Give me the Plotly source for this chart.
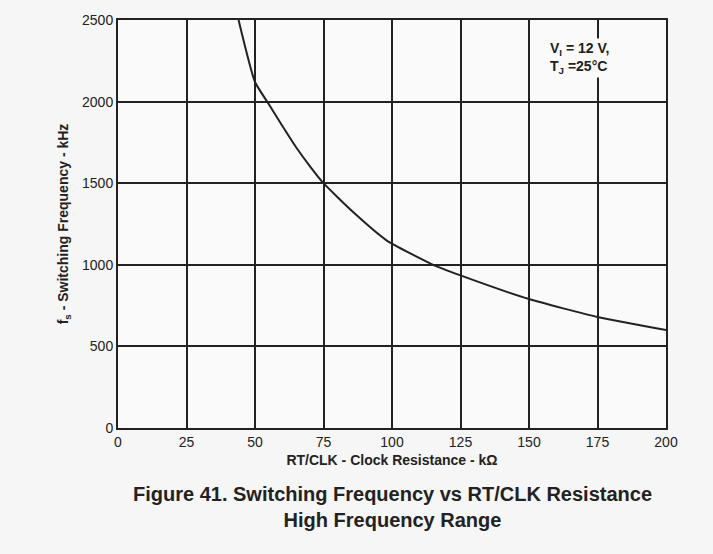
import plotly.graph_objects as go

# RT/CLK resistance (kOhm) and switching frequency (kHz)
resistance = [44, 50, 55, 60, 65, 70, 75, 86, 98, 115, 125, 150, 175, 200]
frequency = [2500, 2120, 1985, 1850, 1720, 1605, 1500, 1320, 1150, 1000, 935, 790, 680, 600]

x_ticks = [0, 25, 50, 75, 100, 125, 150, 175, 200]
y_ticks = [0, 500, 1000, 1500, 2000, 2500]

FONT = "Liberation Sans, Arial, sans-serif"
INK = "#222222"

fig = go.Figure()
fig.add_trace(go.Scatter(
    x=resistance, y=frequency, mode="lines",
    line=dict(color=INK, width=2, shape="spline", smoothing=0.5),
    hoverinfo="x+y", showlegend=False,
))

fig.update_layout(
    width=713, height=554,
    margin=dict(l=118, r=47, t=20, b=126),
    paper_bgcolor="#f6f6f6",
    plot_bgcolor="#fafafa",
    font=dict(family=FONT, color=INK),
    xaxis=dict(
        range=[0, 200], tickvals=x_ticks, ticktext=[str(v) for v in x_ticks],
        showgrid=True, gridcolor=INK, gridwidth=2,
        showline=True, linecolor=INK, linewidth=2, mirror=True,
        zeroline=False, ticks="", ticklen=0,
        tickfont=dict(size=14, family=FONT, color=INK),
        title=dict(text="<b>RT/CLK - Clock Resistance - kΩ</b>",
                   font=dict(size=14, family=FONT, color=INK), standoff=6),
    ),
    yaxis=dict(
        range=[0, 2500], tickvals=y_ticks, ticktext=[str(v) for v in y_ticks],
        showgrid=True, gridcolor=INK, gridwidth=2,
        showline=True, linecolor=INK, linewidth=2, mirror=True,
        zeroline=False, ticks="", ticklen=0,
        tickfont=dict(size=14, family=FONT, color=INK),
        title=dict(text="<b>f<sub>s</sub> - Switching Frequency - kHz</b>",
                   font=dict(size=14, family=FONT, color=INK), standoff=10),
    ),
    annotations=[
        dict(
            x=0.785, y=0.955, xref="paper", yref="paper",
            xanchor="left", yanchor="top", align="left",
            text="<b>V<sub>I</sub> = 12 V,<br>T<sub>J</sub> =25°C</b>",
            showarrow=False, bgcolor="#fafafa",
            font=dict(size=14, family=FONT, color=INK),
        ),
        dict(
            x=0.5, y=-0.13, xref="paper", yref="paper",
            xanchor="center", yanchor="top", align="center",
            text="<b>Figure 41. Switching Frequency vs RT/CLK Resistance<br>High Frequency Range</b>",
            showarrow=False,
            font=dict(size=20, family=FONT, color=INK),
        ),
    ],
)

fig.write_html("out.html")
